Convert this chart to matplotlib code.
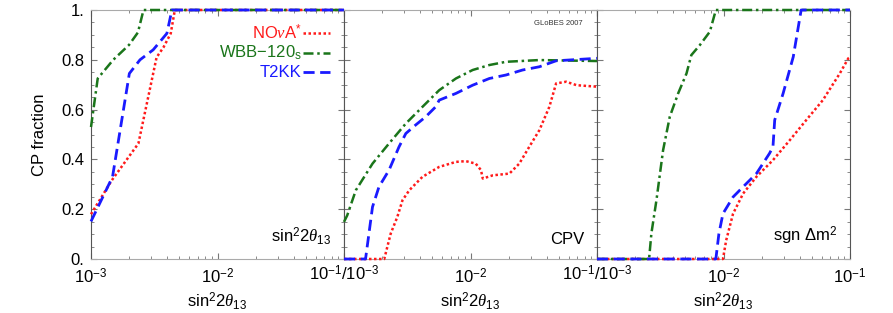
import numpy as np
import matplotlib
matplotlib.use("Agg")
import matplotlib.pyplot as plt
from matplotlib.ticker import LogLocator, NullFormatter, MultipleLocator, FixedLocator

plt.rcParams["font.family"] = ["Liberation Sans", "DejaVu Sans"]
plt.rcParams["mathtext.fontset"] = "custom"
plt.rcParams["mathtext.rm"] = "Liberation Sans"
plt.rcParams["mathtext.it"] = "Liberation Serif:italic"
plt.rcParams["mathtext.bf"] = "Liberation Sans:bold"

# ---- data ----
series_names = ["NO$\\nu$A$^{*}$", "WBB$-$120$_{\\rm s}$", "T2KK"]
panel_labels = ["sin$^2$2$\\theta_{13}$", "CPV", "sgn $\\Delta$m$^2$"]
ytick_labels = ["0.", "0.2", "0.4", "0.6", "0.8", "1."]
ytick_values = [0, 0.2, 0.4, 0.6, 0.8, 1.0]

# Panel 1: sin^2 2theta13 discovery
p1_nova_x = [1e-3, 1.46e-3, 2.37e-3, 3.3e-3, 3.74e-3, 4.27e-3, 4.6e-3, 1e-1]
p1_nova_y = [0.18, 0.316, 0.464, 0.81, 0.85, 0.906, 1.0, 1.0]
p1_wbb_x = [1e-3, 1.13e-3, 1.5e-3, 2.0e-3, 2.35e-3, 2.6e-3, 1e-1]
p1_wbb_y = [0.53, 0.725, 0.80, 0.86, 0.91, 1.0, 1.0]
p1_t2kk_x = [1e-3, 1.48e-3, 2.01e-3, 2.44e-3, 3.1e-3, 3.98e-3, 4.36e-3, 1e-1]
p1_t2kk_y = [0.151, 0.33, 0.745, 0.80, 0.84, 0.906, 1.0, 1.0]

# Panel 2: CPV
p2_nova_x = [1e-3, 2.08e-3, 2.34e-3, 2.64e-3, 2.9e-3, 3.28e-3, 4.17e-3, 5.66e-3, 7.67e-3,
             9.2e-3, 1.1e-2, 1.21e-2, 1.25e-2, 1.5e-2, 2.03e-2, 2.43e-2, 2.91e-2, 3.5e-2,
             4.2e-2, 4.75e-2, 5.7e-2, 6.9e-2, 1e-1]
p2_nova_y = [0.0, 0.0, 0.102, 0.169, 0.236, 0.276, 0.33, 0.37, 0.39,
             0.393, 0.383, 0.357, 0.323, 0.336, 0.343, 0.383, 0.45, 0.517,
             0.611, 0.705, 0.712, 0.698, 0.692]
p2_wbb_x = [1e-3, 1.06e-3, 1.24e-3, 1.68e-3, 2.27e-3, 3.08e-3, 4.17e-3, 5.66e-3, 7.67e-3,
            1.04e-2, 1.41e-2, 1.91e-2, 3.5e-2, 1e-1]
p2_wbb_y = [0.149, 0.175, 0.276, 0.383, 0.464, 0.544, 0.611, 0.678, 0.725,
            0.759, 0.779, 0.792, 0.799, 0.795]
p2_t2kk_x = [1e-3, 1.48e-3, 1.68e-3, 1.89e-3, 2.27e-3, 2.72e-3, 3.08e-3, 3.68e-3, 4.42e-3,
             5.3e-3, 5.66e-3, 7.67e-3, 1.04e-2, 1.41e-2, 1.91e-2, 2.58e-2, 3.5e-2, 4.75e-2,
             6.4e-2, 1e-1]
p2_t2kk_y = [0.0, 0.0, 0.209, 0.29, 0.357, 0.45, 0.504, 0.538, 0.571,
             0.611, 0.638, 0.665, 0.698, 0.725, 0.739, 0.759, 0.772, 0.796,
             0.80, 0.806]

# Panel 3: sgn dm^2
p3_nova_x = [1e-3, 9.9e-3, 1.05e-2, 1.19e-2, 1.43e-2, 1.82e-2, 2.46e-2, 3.34e-2, 4.51e-2,
             6.1e-2, 8.3e-2, 9.7e-2, 1e-1]
p3_nova_y = [0.0, 0.0, 0.075, 0.182, 0.263, 0.33, 0.397, 0.477, 0.558,
             0.638, 0.745, 0.806, 0.81]
p3_wbb_x = [1e-3, 2.58e-3, 2.69e-3, 2.95e-3, 3.33e-3, 3.76e-3, 4.38e-3, 5.1e-3, 5.57e-3,
            6.5e-3, 7.8e-3, 8.7e-3, 1e-1]
p3_wbb_y = [0.0, 0.0, 0.102, 0.236, 0.437, 0.571, 0.665, 0.745, 0.819,
            0.859, 0.913, 1.0, 1.0]
p3_t2kk_x = [1e-3, 8.7e-3, 9.2e-3, 9.9e-3, 1.19e-2, 1.43e-2, 1.82e-2, 2.31e-2, 2.46e-2,
             2.54e-2, 2.96e-2, 3.56e-2, 4.11e-2, 1e-1]
p3_t2kk_y = [0.0, 0.0, 0.102, 0.182, 0.249, 0.29, 0.343, 0.424, 0.45,
             0.558, 0.665, 0.812, 1.0, 1.0]

panels = [
    [(p1_nova_x, p1_nova_y), (p1_wbb_x, p1_wbb_y), (p1_t2kk_x, p1_t2kk_y)],
    [(p2_nova_x, p2_nova_y), (p2_wbb_x, p2_wbb_y), (p2_t2kk_x, p2_t2kk_y)],
    [(p3_nova_x, p3_nova_y), (p3_wbb_x, p3_wbb_y), (p3_t2kk_x, p3_t2kk_y)],
]

colors = ["#ff1a1a", "#1a751a", "#1a1aff"]
styles = [(0, (1, 1)), (0, (4, 1.5, 1, 1.5)), (0, (4, 2))]
widths = [1.8, 1.8, 2.0]

fig = plt.figure(figsize=(8.93, 3.13), dpi=100)
W, H = 893, 313
lefts = [91, 344, 597]
pw = 253
top, bot = 10, 259
axes = []
for i, l in enumerate(lefts):
    ax = fig.add_axes([l / W, 1 - bot / H, pw / W, (bot - top) / H])
    axes.append(ax)
    for (x, y), c, ls, lw in zip(panels[i], colors, styles, widths):
        ax.plot(x, y, color=c, linestyle=ls, linewidth=lw, clip_on=False, zorder=3)
    ax.set_xscale("log")
    ax.set_xlim(1e-3, 1e-1)
    ax.set_ylim(0, 1)
    ax.xaxis.set_major_locator(FixedLocator([1e-3, 1e-2, 1e-1]))
    ax.xaxis.set_minor_locator(LogLocator(base=10, subs=np.arange(2, 10), numticks=20))
    ax.xaxis.set_minor_formatter(NullFormatter())
    ax.yaxis.set_major_locator(FixedLocator(ytick_values))
    ax.yaxis.set_minor_locator(MultipleLocator(0.05))
    ax.tick_params(which="both", direction="in", top=True, right=True, colors="#777777",
                   labelcolor="black", labelsize=12)
    ax.tick_params(which="major", length=4)
    ax.tick_params(which="minor", length=2)
    ax.tick_params(axis="x", which="major", pad=6)
    ax.tick_params(axis="y", which="major", pad=5)
    for s in ["top", "bottom"]:
        ax.spines[s].set_color("#aaaaaa")
    for s in ["left", "right"]:
        ax.spines[s].set_color("#555555")
    ax.set_xlabel("sin$^2$2$\\theta_{13}$", fontsize=12, labelpad=3)
    if i == 0:
        ax.set_yticklabels(ytick_labels)
        ax.set_ylabel("CP fraction", fontsize=12, labelpad=10)
    else:
        ax.set_yticklabels([])
    # x tick labels
    if i == 0:
        ax.set_xticklabels(["$10^{-3}$", "$10^{-2}$", ""])
    elif i == 1:
        ax.set_xticklabels(["", "$10^{-2}$", ""])
    else:
        ax.set_xticklabels(["", "$10^{-2}$", "$10^{-1}$"])
    ax.text(0.95, 0.05, panel_labels[i], transform=ax.transAxes, ha="right", va="bottom",
            fontsize=12)

# shared boundary labels
for bx in [344, 597]:
    fig.text(bx / W, 1 - 274 / H, "$10^{-1}/10^{-3}$", ha="center", va="center", fontsize=12)

axes[1].text(0.945, 0.944, "GLoBES 2007", transform=axes[1].transAxes, ha="right",
             va="center", fontsize=5.5, color="#333333")

# legend in panel 1
ax = axes[0]
leg_y = [0.908, 0.827, 0.751]
for name, c, ls, lw, yy in zip(series_names, colors, styles, widths, leg_y):
    ax.text(0.832, yy, name, transform=ax.transAxes, ha="right", va="center",
            fontsize=12, color=c)
    ax.plot([0.836, 0.945], [yy, yy], transform=ax.transAxes, color=c,
            linestyle=ls, linewidth=lw)

fig.savefig("out.png", dpi=100)
